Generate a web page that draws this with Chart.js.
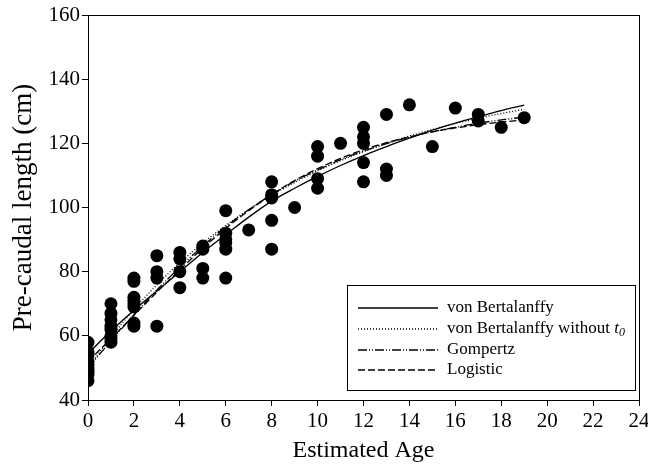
<!DOCTYPE html>
<html>
<head>
<meta charset="utf-8">
<script src="https://cdn.jsdelivr.net/npm/chart.js@4.4.1/dist/chart.umd.min.js"></script>
<style>
  html, body { margin: 0; padding: 0; background: #fff; }
  #wrap { width: 648px; height: 465px; }
</style>
</head>
<body>
<div id="wrap"><canvas id="growth" width="648" height="465"></canvas></div>
<script>
// observed fish (age, pre-caudal length)
var obsAge = [0,0,0,0,0,0,0,0,0, 1,1,1,1,1,1,1,1, 2,2,2,2,2,2,2,2, 3,3,3,3, 4,4,4,4, 5,5,5,5,
              6,6,6,6,6,6, 7, 8,8,8,8,8, 9, 10,10,10,10, 11, 12,12,12,12,12, 13,13,13, 14, 15, 16, 17,17, 18, 19];
var obsLength = [58,55,54,52,51,50,49,48,46, 70,67,65,63,62,60,59,58, 78,77,72,71,70,69,64,63, 85,80,78,63, 86,84,80,75, 88,87,81,78,
                 99,92,90,89,87,78, 93, 108,104,103,96,87, 100, 119,116,109,106, 120, 125,122,120,114,108, 129,112,110, 132, 119, 131, 129,127, 125, 128];

// fitted curves at each age
var fitAge = [0,1,2,3,4,5,6,7,8,9,10,11,12,13,14,15,16,17,18,19];
var vonBert = [54.5,61.5,68,74,80,86,91.5,97,102,106,109.7,113.1,116.2,119,121.6,124.1,126.3,128.3,130.2,131.9];
var vonBertNoT0 = [50,59.6,68.2,75.9,82.8,88.9,94.4,99.4,103.8,107.8,111.4,114.6,117.4,120,122.3,124.3,126.2,127.8,129.3,130.6];
var gompertz = [50,58.4,66.5,74.3,81.4,88,94,99.3,104,108.2,111.7,114.9,117.6,119.9,121.9,123.6,125,126.3,127.3,128.2];
var logistic = [52,59.1,66.4,73.6,80.6,87.3,93.5,99,104,108.4,112.1,115.3,118,120.2,122,123.6,124.8,125.8,126.6,127.3];

var xTicks = [0,2,4,6,8,10,12,14,16,18,20,22,24];
var yTicks = [40,60,80,100,120,140,160];

var SERIF = '"Liberation Serif", "Times New Roman", serif';

function pairs(xs, ys) {
	var out = [];
	for (var i = 0; i < xs.length; i++) out.push({x: xs[i], y: ys[i]});
	return out;
}

function fitLine(label, values, dash) {
	return {
		label: label,
		data: pairs(fitAge, values),
		showLine: true,
		borderColor: '#000',
		borderWidth: 1.3,
		borderDash: dash,
		pointRadius: 0,
		cubicInterpolationMode: 'monotone',
		fill: false
	};
}

// frame round the plot + boxed legend
var framePlugin = {
	id: 'frame',
	afterDraw: function(chart) {
		var ctx = chart.ctx, a = chart.chartArea;
		ctx.save();
		ctx.strokeStyle = '#000';
		ctx.lineWidth = 1;
		ctx.strokeRect(a.left + 0.5, a.top + 0.5, a.right - a.left, a.bottom - a.top);

		var bx = a.left + 259, by = a.top + 270, bw = 288, bh = 105;
		ctx.strokeRect(bx + 0.5, by + 0.5, bw, bh);

		var rows = [308, 329, 350, 370];
		ctx.fillStyle = '#000';
		ctx.textBaseline = 'middle';
		for (var i = 1; i <= 4; i++) {
			var ds = chart.data.datasets[i];
			var y = rows[i - 1] - 15 + a.top;
			ctx.beginPath();
			ctx.setLineDash(ds.borderDash || []);
			ctx.lineWidth = 1.3;
			ctx.moveTo(bx + 11, y);
			ctx.lineTo(bx + 91, y);
			ctx.stroke();
			ctx.setLineDash([]);
			ctx.font = '17px ' + SERIF;
			ctx.fillText(ds.label, bx + 100, y);
			if (i === 2) {
				var w = ctx.measureText(ds.label + ' ').width;
				ctx.font = 'italic 17px ' + SERIF;
				ctx.fillText('t', bx + 100 + w, y);
				var tw = ctx.measureText('t').width;
				ctx.font = 'italic 12px ' + SERIF;
				ctx.fillText('0', bx + 100 + w + tw, y + 4);
			}
		}
		ctx.restore();
	}
};

window.onload = function() {
	var ctx = document.getElementById('growth').getContext('2d');
	window.growthChart = new Chart(ctx, {
		type: 'scatter',
		data: {
			datasets: [{
				label: 'Observed',
				data: pairs(obsAge, obsLength),
				pointRadius: 6.5,
				pointBackgroundColor: '#000',
				pointBorderColor: '#000',
				pointBorderWidth: 0,
				showLine: false
			},
			fitLine('von Bertalanffy', vonBert, []),
			fitLine('von Bertalanffy without', vonBertNoT0, [1, 2]),
			fitLine('Gompertz', gompertz, [9, 2, 1, 2, 1, 2]),
			fitLine('Logistic', logistic, [7, 3])]
		},
		options: {
			responsive: false,
			animation: false,
			layout: { padding: { top: 15, right: 9, left: 0, bottom: 0 } },
			plugins: {
				legend: { display: false },
				tooltip: { enabled: false }
			},
			scales: {
				x: {
					type: 'linear',
					min: 0,
					max: 24,
					afterBuildTicks: function(scale) {
						scale.ticks = xTicks.map(function(v) { return {value: v}; });
					},
					afterFit: function(scale) {
						scale.height = 65;
						scale.paddingRight = 0;
						scale.paddingLeft = 0;
					},
					ticks: { color: '#000', font: { family: SERIF, size: 21 }, padding: 3, maxRotation: 0 },
					grid: { drawOnChartArea: false, drawTicks: true, tickLength: 6, color: '#000' },
					border: { display: true, color: '#000', width: 1 },
					title: { display: true, text: 'Estimated Age', color: '#000', font: { family: SERIF, size: 24 }, padding: { top: 0, bottom: 0 } }
				},
				y: {
					type: 'linear',
					min: 40,
					max: 160,
					afterBuildTicks: function(scale) {
						scale.ticks = yTicks.map(function(v) { return {value: v}; });
					},
					afterFit: function(scale) { scale.width = 88; },
					ticks: { color: '#000', font: { family: SERIF, size: 21 }, padding: 2 },
					grid: { drawOnChartArea: false, drawTicks: true, tickLength: 6, color: '#000' },
					border: { display: true, color: '#000', width: 1 },
					title: { display: true, text: 'Pre-caudal length (cm)', color: '#000', font: { family: SERIF, size: 27 }, padding: { top: 8, bottom: 0 } }
				}
			}
		},
		plugins: [framePlugin]
	});
};
</script>
</body>
</html>
